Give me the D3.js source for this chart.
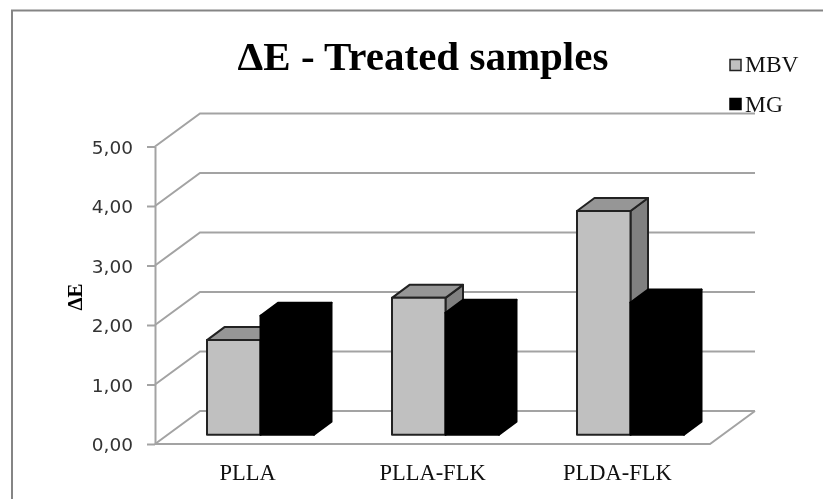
<!DOCTYPE html>
<html>
<head>
<meta charset="utf-8">
<script src="https://cdn.jsdelivr.net/npm/d3@7"></script>
<style>
  html, body { margin: 0; padding: 0; background: #fff; }
  svg { display: block; filter: blur(0.4px); }
</style>
</head>
<body>
<div id="chart-area"></div>
<script>
const categories = ["PLLA", "PLLA-FLK", "PLDA-FLK"]
const seriesNames = ["MBV", "MG"]
const mbvValues = [1.59, 2.30, 3.76]
const mgValues = [2.00, 2.05, 2.22]
const yTicks = [0, 1, 2, 3, 4, 5]

const WIDTH = 823
const HEIGHT = 499
const PLOT = { LEFT: 155, RIGHT: 710, TOP: 146.5, BOTTOM: 444 }
// floor depth of the 3d box and depth of one bar
const DEPTH = { X: 45, Y: -33 }
const BAR_DEPTH = { X: 17.5, Y: -13 }
// bars stand a bit inside the floor
const BAR_SHIFT = { X: 13, Y: -9.3 }

const seriesValues = { MBV: mbvValues, MG: mgValues }
const rows = categories.flatMap((c, i) =>
  seriesNames.map(s => ({ category: c, series: s, value: seriesValues[s][i] })))

const svg = d3.select("#chart-area")
  .append("svg")
    .attr("width", WIDTH)
    .attr("height", HEIGHT)

// outer frame, cut by the picture on the right and at the bottom
svg.append("path")
  .attr("d", `M12,${HEIGHT + 2}V10.5H${WIDTH + 2}`)
  .attr("fill", "none")
  .attr("stroke", "#858585")
  .attr("stroke-width", 2)

svg.append("text")
  .attr("x", 423)
  .attr("y", 70)
  .attr("text-anchor", "middle")
  .attr("font-family", "Liberation Serif")
  .attr("font-weight", "bold")
  .attr("font-size", "41px")
  .attr("fill", "#000")
  .text("ΔE - Treated samples")

const x = d3.scaleBand()
  .domain(categories)
  .range([PLOT.LEFT, PLOT.RIGHT])

const xInner = d3.scaleBand()
  .domain(seriesNames)
  .range([x.bandwidth() / 2 - 53.5, x.bandwidth() / 2 + 53.5])

const y = d3.scaleLinear()
  .domain([0, 5])
  .range([PLOT.BOTTOM, PLOT.TOP])

const grey = "#a3a3a3"

// grid lines running over the side wall and the back wall
svg.append("g")
  .selectAll("path")
  .data(yTicks)
  .enter().append("path")
    .attr("d", d => {
      const py = y(d)
      return `M${PLOT.LEFT},${py}L${PLOT.LEFT + DEPTH.X},${py + DEPTH.Y}H${PLOT.RIGHT + DEPTH.X}`
    })
    .attr("fill", "none")
    .attr("stroke", grey)
    .attr("stroke-width", 2)

// floor edge
svg.append("path")
  .attr("d", `M${PLOT.LEFT},${y(0)}H${PLOT.RIGHT}L${PLOT.RIGHT + DEPTH.X},${y(0) + DEPTH.Y}`)
  .attr("fill", "none")
  .attr("stroke", grey)
  .attr("stroke-width", 2)

// y axis
const yAxis = svg.append("g")
  .attr("transform", `translate(${PLOT.LEFT}, 0)`)
  .call(d3.axisLeft(y)
    .tickValues(yTicks)
    .tickSize(8)
    .tickPadding(14)
    .tickSizeOuter(0)
    .tickFormat(d => d3.format(".2f")(d).replace(".", ",")))
yAxis.select(".domain").attr("stroke", grey).attr("stroke-width", 2)
yAxis.selectAll("line").attr("stroke", grey).attr("stroke-width", 2)
yAxis.selectAll("text")
  .attr("y", 1)
  .attr("font-family", "DejaVu Sans")
  .attr("font-size", "18.5px")
  .attr("fill", "#333")

// y label
svg.append("text")
  .attr("transform", "translate(81.5, 297) rotate(-90)")
  .attr("text-anchor", "middle")
  .attr("font-family", "Liberation Serif")
  .attr("font-weight", "bold")
  .attr("font-size", "21px")
  .attr("fill", "#000")
  .text("ΔE")

// x labels
svg.append("g")
  .selectAll("text")
  .data(categories)
  .enter().append("text")
    .attr("x", d => x(d) + x.bandwidth() / 2)
    .attr("y", 479.5)
    .attr("text-anchor", "middle")
    .attr("font-family", "Liberation Serif")
    .attr("font-size", "22.5px")
    .attr("fill", "#111")
    .text(d => d)

const faces = {
  MBV: { front: "#c0c0c0", top: "#969696", side: "#808080", stroke: "#222" },
  MG: { front: "#000", top: "#000", side: "#000", stroke: "#000" }
}

// MG comes after MBV so the black bar hides the grey side
const bars = svg.append("g")
  .selectAll("g")
  .data(rows)
  .enter().append("g")
    .attr("stroke-width", 2)
    .attr("stroke-linejoin", "round")
    .attr("stroke", d => faces[d.series].stroke)

const barLeft = d => x(d.category) + xInner(d.series) + BAR_SHIFT.X
const barRight = d => barLeft(d) + xInner.bandwidth()
const barBase = () => y(0) + BAR_SHIFT.Y
const barTop = d => y(d.value) + BAR_SHIFT.Y

// side
bars.append("path")
  .attr("fill", d => faces[d.series].side)
  .attr("d", d => `M${barRight(d)},${barTop(d)}l${BAR_DEPTH.X},${BAR_DEPTH.Y}V${barBase() + BAR_DEPTH.Y}L${barRight(d)},${barBase()}Z`)

// top
bars.append("path")
  .attr("fill", d => faces[d.series].top)
  .attr("d", d => `M${barLeft(d)},${barTop(d)}l${BAR_DEPTH.X},${BAR_DEPTH.Y}H${barRight(d) + BAR_DEPTH.X}L${barRight(d)},${barTop(d)}Z`)

// front
bars.append("rect")
  .attr("x", barLeft)
  .attr("y", barTop)
  .attr("width", xInner.bandwidth())
  .attr("height", d => barBase() - barTop(d))
  .attr("fill", d => faces[d.series].front)

// legend
const legendY = d3.scalePoint()
  .domain(seriesNames)
  .range([65, 104])

const legend = svg.append("g")
  .selectAll("g")
  .data(seriesNames)
  .enter().append("g")
    .attr("transform", d => `translate(729, ${legendY(d)})`)

legend.append("rect")
  .attr("x", 1)
  .attr("y", -5.5)
  .attr("width", 11)
  .attr("height", 11)
  .attr("fill", d => faces[d].front)
  .attr("stroke", d => faces[d].stroke)
  .attr("stroke-width", 1.5)

legend.append("text")
  .attr("x", 16)
  .attr("y", d => d === "MG" ? 7.5 : 7)
  .attr("font-family", "Liberation Serif")
  .attr("font-size", "23.5px")
  .attr("fill", "#111")
  .text(d => d)
</script>
</body>
</html>
